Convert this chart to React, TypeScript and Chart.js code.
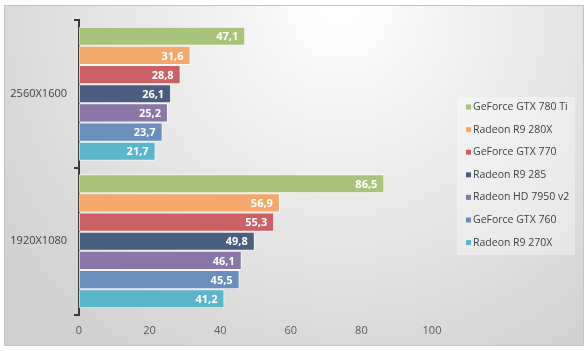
import React, { useEffect, useRef } from "react";
import { Chart, registerables } from "chart.js";

Chart.register(...registerables);

const categories = ["2560X1600", "1920X1080"];
const seriesNames = [
  "GeForce GTX 780 Ti",
  "Radeon R9 280X",
  "GeForce GTX 770",
  "Radeon R9 285",
  "Radeon HD 7950 v2",
  "GeForce GTX 760",
  "Radeon R9 270X",
];
const gtx780ti = [47.1, 86.5];
const r9280x = [31.6, 56.9];
const gtx770 = [28.8, 55.3];
const r9285 = [26.1, 49.8];
const hd7950v2 = [25.2, 46.1];
const gtx760 = [23.7, 45.5];
const r9270x = [21.7, 41.2];
const seriesValues = [gtx780ti, r9280x, gtx770, r9285, hd7950v2, gtx760, r9270x];
const seriesColors = ["#A8C47A", "#F3A86C", "#CB6164", "#4A5F80", "#8B77A7", "#6B8FBC", "#5CB6CB"];
const xTicks = [0, 20, 40, 60, 80, 100];

const FONT = "'Open Sans', 'Noto Sans', sans-serif";

const bgPlugin = {
  id: "bgPlugin",
  beforeDraw(chart: any) {
    const { ctx, width, height } = chart;
    ctx.save();
    ctx.fillStyle = "#ffffff";
    ctx.fillRect(0, 0, width, height);
    const g = ctx.createRadialGradient(340, 10, 0, 340, 10, 420);
    g.addColorStop(0, "#ffffff");
    g.addColorStop(1, "#d0d0d0");
    ctx.fillStyle = g;
    ctx.fillRect(4, 5, 580, 341);
    ctx.strokeStyle = "#c4c4c4";
    ctx.lineWidth = 1;
    ctx.strokeRect(4.5, 5.5, 579, 340);
    ctx.restore();
  },
};

const labelsPlugin = {
  id: "valueLabels",
  afterDatasetsDraw(chart: any) {
    const { ctx } = chart;
    ctx.save();
    ctx.font = `bold 11px ${FONT}`;
    ctx.fillStyle = "#ffffff";
    ctx.textAlign = "right";
    ctx.textBaseline = "middle";
    chart.data.datasets.forEach((ds: any, i: number) => {
      const meta = chart.getDatasetMeta(i);
      meta.data.forEach((bar: any, j: number) => {
        const v = ds.data[j];
        ctx.fillText(String(v).replace(".", ","), bar.x - 7, bar.y + 1);
      });
    });
    ctx.restore();
  },
};

const legendPlugin = {
  id: "customLegend",
  afterDraw(chart: any) {
    const { ctx } = chart;
    ctx.save();
    ctx.fillStyle = "rgba(255,255,255,0.35)";
    ctx.fillRect(457, 97, 118, 158);
    ctx.font = `10.5px ${FONT}`;
    ctx.textAlign = "left";
    ctx.textBaseline = "middle";
    chart.data.datasets.forEach((ds: any, i: number) => {
      const y = 107 + i * 22.6;
      ctx.fillStyle = ds.backgroundColor;
      ctx.fillRect(466, y - 2.5, 5, 5);
      ctx.fillStyle = "#404040";
      ctx.fillText(ds.label, 473, y);
    });
    ctx.restore();
  },
};

export default function App() {
  const ref = useRef<HTMLCanvasElement>(null);
  useEffect(() => {
    if (!ref.current) return;
    const chart = new Chart(ref.current, {
      type: "bar",
      data: {
        labels: categories,
        datasets: seriesNames.map((name, i) => ({
          label: name,
          data: seriesValues[i],
          backgroundColor: seriesColors[i],
          borderColor: "rgba(255,255,255,0.75)",
          borderWidth: 1,
          borderSkipped: false,
          categoryPercentage: 0.91,
          barPercentage: 1,
        })),
      },
      options: {
        indexAxis: "y",
        responsive: false,
        animation: false,
        layout: { padding: { left: 0, right: 156, top: 20, bottom: 0 } },
        plugins: { legend: { display: false }, tooltip: { enabled: false } },
        scales: {
          x: {
            min: 0,
            max: 100,
            afterBuildTicks: (s: any) => {
              s.ticks = xTicks.map((v) => ({ value: v }));
            },
            grid: { display: false, drawTicks: false },
            border: { display: false },
            ticks: { color: "#595959", font: { family: FONT, size: 11 }, padding: 9 },
            afterFit: (s: any) => {
              s.height = 36;
            },
          },
          y: {
            grid: {
              display: true,
              drawOnChartArea: false,
              drawTicks: true,
              tickLength: 5,
              offset: true,
              color: "#3a3a3a",
              lineWidth: 2,
            },
            border: { display: true, color: "#3a3a3a", width: 2 },
            ticks: { color: "#404040", font: { family: FONT, size: 11 }, padding: 7 },
            afterFit: (s: any) => {
              s.width = 79;
            },
          },
        },
      },
      plugins: [bgPlugin, labelsPlugin, legendPlugin],
    } as any);
    return () => chart.destroy();
  }, []);
  return (
    <div style={{ position: "absolute", left: 0, top: 0, width: 588, height: 351 }}>
      <canvas ref={ref} width={588} height={351} />
    </div>
  );
}
